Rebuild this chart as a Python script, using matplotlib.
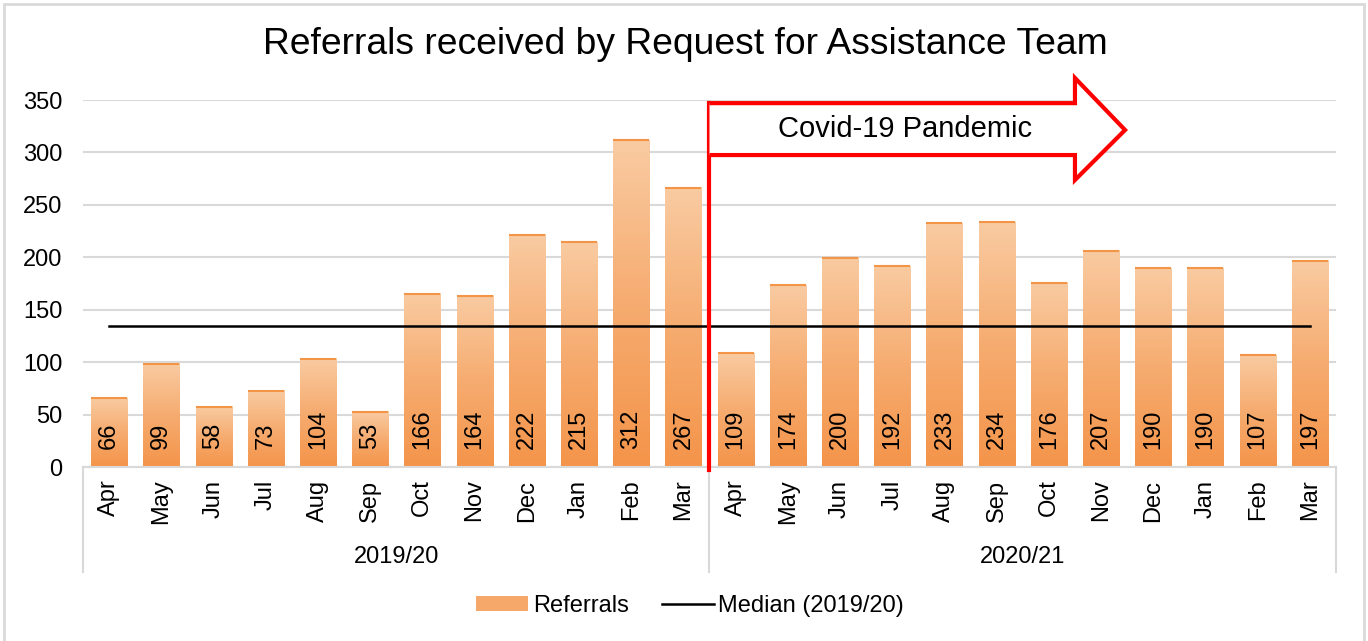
import numpy as np
import matplotlib
matplotlib.use("Agg")
import matplotlib.pyplot as plt
from matplotlib.colors import LinearSegmentedColormap
from matplotlib.patches import Patch, Polygon, Rectangle
from matplotlib.lines import Line2D

months = ["Apr", "May", "Jun", "Jul", "Aug", "Sep", "Oct", "Nov", "Dec", "Jan", "Feb", "Mar"]
years = ["2019/20", "2020/21"]
referrals_1920 = [66, 99, 58, 73, 104, 53, 166, 164, 222, 215, 312, 267]
referrals_2021 = [109, 174, 200, 192, 233, 234, 176, 207, 190, 190, 107, 197]

labels = months + months
values = referrals_1920 + referrals_2021
median_1920 = float(np.median(referrals_1920))

FONT = "Liberation Sans"
plt.rcParams["font.family"] = [FONT, "DejaVu Sans"]
FS = 17

fig = plt.figure(figsize=(13.68, 6.41), dpi=100)
W, H = 1368, 641
ax = fig.add_axes([83 / W, 1 - 467 / H, (1336 - 83) / W, (467 - 100) / H])

x = np.arange(len(values))
cmap = LinearSegmentedColormap.from_list("ref", ["#F4944A", "#F6AC70", "#F9CBA2"])
grad = np.linspace(0, 1, 256).reshape(-1, 1)

bars = ax.bar(x, values, width=0.69, color="none", edgecolor="none", zorder=2)
for b in bars:
    x0, w, h = b.get_x(), b.get_width(), b.get_height()
    im = ax.imshow(grad, cmap=cmap, aspect="auto", origin="lower",
                   extent=[x0, x0 + w, 0, h], zorder=2)
    im.set_clip_path(b)
    ax.plot([x0, x0 + w], [h - 0.6, h - 0.6], color="#F39447", lw=1.5, zorder=3,
            solid_capstyle="butt")
    ax.text(x0 + w / 2, 17, f"{h:g}", rotation=90, ha="center", va="bottom",
            fontsize=FS, color="black", zorder=4)

ax.plot(x, [median_1920] * len(x), color="black", lw=1.8, zorder=3)

ax.set_xlim(-0.5, len(values) - 0.5)
ax.set_ylim(0, 350)
ax.set_yticks(np.arange(0, 351, 50))
ax.tick_params(axis="y", length=0, labelsize=FS, pad=15)
ax.grid(axis="y", color="#D9D9D9", lw=1.5, zorder=0)
ax.set_axisbelow(True)
for s in ["top", "right", "left"]:
    ax.spines[s].set_visible(False)
ax.spines["bottom"].set_color("#D9D9D9")
ax.spines["bottom"].set_linewidth(1.5)
ax.set_xticks(x)
ax.set_xticklabels(labels, rotation=90, fontsize=FS)
ax.tick_params(axis="x", length=0, pad=9)

# year group separators and labels
for xs in [-0.5, 11.5, 23.5]:
    ax.plot([xs, xs], [0, -100], color="#D9D9D9", lw=1.5, clip_on=False, zorder=1)
for i, yr in enumerate(years):
    ax.text(5.5 + 12 * i, -86, yr, ha="center", va="center", fontsize=FS)

# covid marker
ax.plot([11.5, 11.5], [-3, 347], color="#FF0000", lw=3, clip_on=False, zorder=5)
arrow = [(11.5, 347), (18.5, 347), (18.5, 371), (19.46, 321.4), (18.5, 273.7),
         (18.5, 297.5), (11.5, 297.5)]
ax.add_patch(Polygon(arrow, closed=False, fill=True, facecolor="white",
                     edgecolor="#FF0000", lw=3, clip_on=False, zorder=5,
                     joinstyle="miter"))
ax.text(15.25, 322, "Covid-19 Pandemic", ha="center", va="center", fontsize=21,
        zorder=6)

fig.text(685 / W, 1 - 45 / H, "Referrals received by Request for Assistance Team",
         ha="center", va="center", fontsize=26.8)

handles = [Patch(facecolor="#F6A86A", edgecolor="none"),
           Line2D([], [], color="black", lw=1.8)]
fig.legend(handles, ["Referrals", "Median (2019/20)"], loc="center",
           bbox_to_anchor=(690 / W, 1 - 606 / H), ncol=2, frameon=False,
           fontsize=FS, handlelength=2.2, handleheight=0.6, columnspacing=1.4,
           handletextpad=0.2)

fig.patches.append(Rectangle((4 / W, -0.01), (1364 - 4) / W, 1 - 4 / H + 0.01,
                             transform=fig.transFigure, fill=False,
                             edgecolor="#D9D9D9", lw=2))

fig.savefig("out.png", dpi=100)
